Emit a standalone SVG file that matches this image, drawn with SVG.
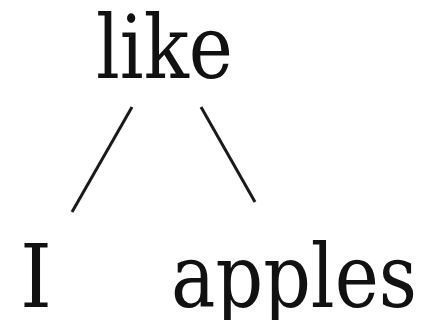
<svg xmlns="http://www.w3.org/2000/svg" width="430" height="320" viewBox="0 0 430 320">
<style>
text{font-family:'DejaVu Serif','Liberation Serif',serif;font-size:88px;fill:#111}
.edge{stroke:#1a1a1a;stroke-width:3;fill:none}
</style>
<rect width="430" height="320" fill="#fff"/>
<g id="edges">
<line class="edge" x1="132" y1="107" x2="72" y2="212"/>
<line class="edge" x1="201" y1="107" x2="255" y2="202"/>
</g>
<g id="node-like"><text x="96" y="78" textLength="137" lengthAdjust="spacingAndGlyphs">like</text></g>
<g id="node-I"><text x="20" y="307" textLength="32" lengthAdjust="spacingAndGlyphs">I</text></g>
<g id="node-apples"><text x="171" y="307" textLength="246" lengthAdjust="spacingAndGlyphs">apples</text></g>
</svg>
